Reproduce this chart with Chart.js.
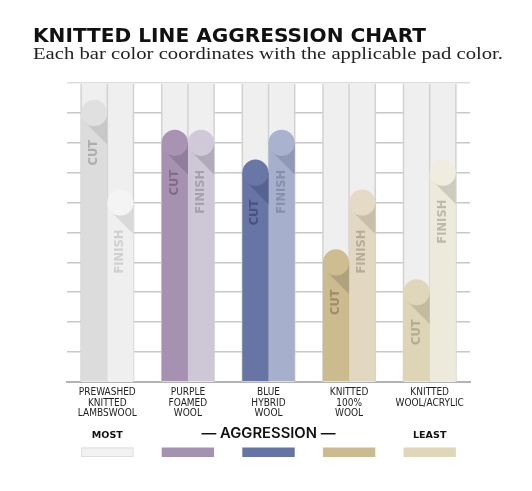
<!DOCTYPE html>
<html><head><meta charset="utf-8">
<script src="https://cdn.jsdelivr.net/npm/chart.js@4.4.1/dist/chart.umd.min.js"></script>
<style>
html,body{margin:0;padding:0;background:#fff;}
#wrap{position:relative;width:532px;height:491px;overflow:hidden;}
</style></head><body>
<div id="wrap"><canvas id="c" width="532" height="491"></canvas></div>
<script>
// ---- data ----
const titleText = "KNITTED LINE AGGRESSION CHART";
const subtitleText = "Each bar color coordinates with the applicable pad color.";
const categories = [
  ["PREWASHED","KNITTED","LAMBSWOOL"],
  ["PURPLE","FOAMED","WOOL"],
  ["BLUE","HYBRID","WOOL"],
  ["KNITTED","100%","WOOL"],
  ["KNITTED","WOOL/ACRYLIC"]
];
const seriesNames = ["CUT","FINISH"];
const cutValues = [9, 8, 7, 4, 3];
const finishValues = [6, 8, 8, 6, 7];
const yTicks = [0,1,2,3,4,5,6,7,8,9,10];
const scaleWords = ["MOST","— AGGRESSION —","LEAST"];

// ---- styles ----
const cutColors    = ['#dcdcdc','#a692b0','#6775a4','#cbbb8e','#ded4b6'];
const finishColors = ['#efefef','#cdc7d6','#a6b0cd','#e2d8c2','#eeeadb'];
const cutCaps      = ['#e0e0e0','#a894b2','#6977a6','#cdbd91','#e0d6b9'];
const finishCaps   = ['#f4f4f4','#d0cad8','#a9b2ce','#e4dac5','#f0ecdf'];
const cutShadows   = ['#c8c8c8','#8f7e9d','#56628f','#b0a27d','#c4ba9f'];
const finishShadows= ['#d9d9d9','#b0aaba','#9099b4','#c8bfab','#cfcbbc'];
const cutText      = ['#adadad','#7d6c8c','#47527f','#9d8e6a','#b5ab8f'];
const finishText   = ['#d0d0d0','#a59fb0','#8790ab','#b6ad99','#bdb9aa'];
const swatchColors = ['#f2f2f2','#a592b0','#6674a3','#cbbb8f','#e0d6b8'];

function fitText(ctx, text, x, y, width, font, color, align) {
  ctx.save();
  ctx.font = font;
  ctx.fillStyle = color;
  ctx.textBaseline = 'alphabetic';
  ctx.textAlign = 'left';
  const w = ctx.measureText(text).width;
  const sx = width / w;
  let x0 = x;
  if (align === 'center') x0 = x - width / 2;
  ctx.translate(x0, y);
  ctx.scale(sx, 1);
  ctx.fillText(text, 0, 0);
  ctx.restore();
}

const decor = {
  id: 'decor',
  beforeDatasetsDraw(chart) {
    const ctx = chart.ctx, ca = chart.chartArea;
    const m0 = chart.getDatasetMeta(0), m1 = chart.getDatasetMeta(1);
    ctx.save();
    for (let i = 0; i < categories.length; i++) {
      const a = m0.data[i], b = m1.data[i];
      const l = a.x - a.width / 2, mid = a.x + a.width / 2, r = b.x + b.width / 2;
      ctx.fillStyle = '#efefef';
      ctx.fillRect(l, ca.top + 1, r - l, ca.bottom - ca.top - 1);
      ctx.strokeStyle = '#d2d2d2';
      ctx.lineWidth = 1.5;
      [l, mid, r].forEach(px => {
        ctx.beginPath(); ctx.moveTo(px, ca.top + 1); ctx.lineTo(px, ca.bottom); ctx.stroke();
      });
    }
    ctx.restore();
  },
  afterDatasetsDraw(chart) {
    const ctx = chart.ctx;
    const sets = [
      {meta: chart.getDatasetMeta(0), caps: cutCaps, sh: cutShadows, tx: cutText, label: seriesNames[0]},
      {meta: chart.getDatasetMeta(1), caps: finishCaps, sh: finishShadows, tx: finishText, label: seriesNames[1]}
    ];
    ctx.save();
    sets.forEach(s => {
      s.meta.data.forEach((el, i) => {
        const cx = el.x, cy = el.y, r = el.width / 2;
        const k = Math.SQRT1_2;
        ctx.fillStyle = s.sh[i];
        ctx.beginPath();
        ctx.moveTo(cx - r * k, cy + r * k);
        ctx.lineTo(cx + r, cy + r + r * Math.SQRT2);
        ctx.lineTo(cx + r, cy);
        ctx.lineTo(cx, cy);
        ctx.closePath();
        ctx.fill();
        ctx.fillStyle = s.caps[i];
        ctx.beginPath();
        ctx.arc(cx, cy, r, 0, Math.PI * 2);
        ctx.fill();
        ctx.save();
        ctx.translate(cx, cy + 27);
        ctx.rotate(-Math.PI / 2);
        ctx.font = "bold 11.5px 'DejaVu Sans'";
        ctx.fillStyle = s.tx[i];
        ctx.textAlign = 'right';
        ctx.textBaseline = 'middle';
        ctx.fillText(s.label, 0, 0);
        ctx.restore();
      });
    });
    ctx.restore();
  },
  afterDraw(chart) {
    const ctx = chart.ctx;
    fitText(ctx, titleText, 33, 41.7, 393, "bold 19px 'DejaVu Sans'", '#111', 'left');
    fitText(ctx, subtitleText, 33, 58.5, 470, "16.5px 'Liberation Serif'", '#222', 'left');
    const m0 = chart.getDatasetMeta(0), m1 = chart.getDatasetMeta(1);
    const xs = chart.scales.x;
    ctx.save();
    for (let i = 0; i < categories.length; i++) {
      const a = m0.data[i], b = m1.data[i];
      const l = a.x - a.width / 2, r = b.x + b.width / 2;
      ctx.fillStyle = swatchColors[i];
      ctx.fillRect(l, 447.5, r - l, 9.5);
      if (i === 0) {
        ctx.strokeStyle = '#dedede'; ctx.lineWidth = 1;
        ctx.strokeRect(l + 0.5, 448, r - l - 1, 8.5);
      }
    }
    ctx.restore();
    fitText(ctx, scaleWords[0], xs.getPixelForValue(0), 437.7, 31, "bold 9px 'DejaVu Sans'", '#111', 'center');
    fitText(ctx, scaleWords[1], xs.getPixelForValue(2), 438.3, 134, "600 14px Inter", '#111', 'center');
    fitText(ctx, scaleWords[2], xs.getPixelForValue(4), 437.7, 33.5, "bold 9px 'DejaVu Sans'", '#111', 'center');
  }
};

new Chart(document.getElementById('c'), {
  type: 'bar',
  data: {
    labels: categories,
    datasets: [
      { label: seriesNames[0], data: cutValues, backgroundColor: cutColors, borderWidth: 0 },
      { label: seriesNames[1], data: finishValues, backgroundColor: finishColors, borderWidth: 0 }
    ]
  },
  options: {
    responsive: false,
    animation: false,
    devicePixelRatio: 1,
    layout: { padding: { left: 67, right: 62, top: 83, bottom: 69 } },
    datasets: { bar: { barPercentage: 1, categoryPercentage: 0.65 } },
    plugins: { legend: { display: false }, tooltip: { enabled: false }, title: { display: false } },
    scales: {
      x: {
        grid: { display: false, drawTicks: false },
        border: { display: true, color: '#b3b3b3', width: 2 },
        ticks: {
          color: '#222', padding: 5, maxRotation: 0, autoSkip: false,
          font: { family: "'Liberation Sans Narrow', 'DejaVu Sans Condensed', sans-serif", size: 10, lineHeight: 1.07 }
        },
        afterFit: s => { s.height = 40; }
      },
      y: {
        min: 0, max: 10,
        afterBuildTicks: s => { s.ticks = yTicks.map(v => ({ value: v })); },
        ticks: { display: false },
        grid: {
          drawTicks: false,
          lineWidth: 1.6,
          color: c => (c.tick && c.tick.value === 10) ? '#dddddd' : '#c8c8c8'
        },
        border: { display: false },
        afterFit: s => { s.width = 0; }
      }
    }
  },
  plugins: [decor]
});
</script>
</body></html>
